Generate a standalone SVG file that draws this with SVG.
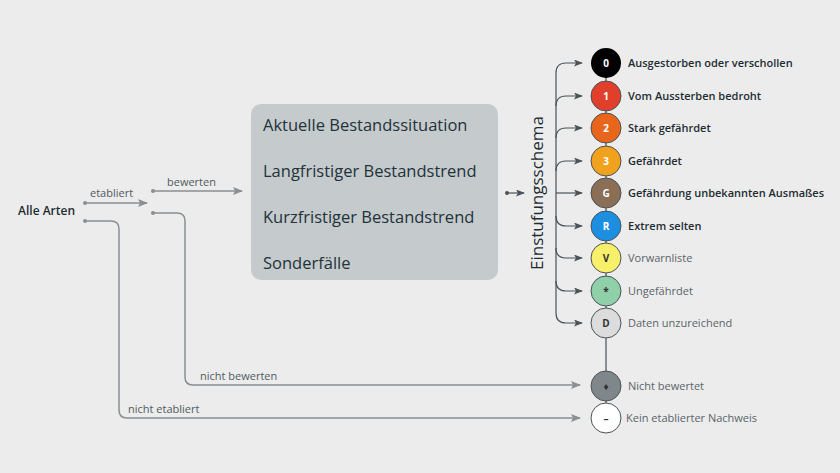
<svg xmlns="http://www.w3.org/2000/svg" width="840" height="473" viewBox="0 0 840 473">
<defs>
<style>
text{font-family:"Open Sans","Noto Sans",sans-serif}
.c{stroke:#8a8f92;stroke-width:1.5;fill:none}
.d{stroke:#4a5358;stroke-width:1.2;fill:none}
.lbl{font-size:11px;fill:#505a5f}
.bt{font-size:11px;font-weight:600;fill:#1e2d33}
.nt{font-size:11px;fill:#5a6469}
.ct{font-size:10px;font-weight:bold;text-anchor:middle}
.bx{font-size:16.5px;fill:#22333a}
</style>
<marker id="ag" markerWidth="10" markerHeight="8" refX="9" refY="4" orient="auto" markerUnits="userSpaceOnUse"><path d="M0,0L10,4L0,8L2,4Z" fill="#8a8f92"/></marker>
<marker id="ad" markerWidth="9" markerHeight="7" refX="8" refY="3.5" orient="auto" markerUnits="userSpaceOnUse"><path d="M0,0L9,3.5L0,7L2,3.5Z" fill="#4a5358"/></marker>
</defs>
<rect width="840" height="473" fill="#ececec"/>
<g id="connectors">
<circle cx="85" cy="203" r="2" fill="#8a8f92"/><path class="c" d="M85,203H147" marker-end="url(#ag)"/>
<circle cx="85" cy="221" r="2" fill="#8a8f92"/><path class="c" d="M85,221H111Q119,221 119,229V410Q119,418 127,418H580" marker-end="url(#ag)"/>
<circle cx="153" cy="191" r="2" fill="#8a8f92"/><path class="c" d="M153,191H242" marker-end="url(#ag)"/>
<circle cx="153" cy="213" r="2" fill="#8a8f92"/><path class="c" d="M153,213H177Q185,213 185,221V377Q185,385 193,385H580" marker-end="url(#ag)"/>
<circle cx="507" cy="193" r="2" fill="#4a5358"/><path class="d" d="M507,193H524" marker-end="url(#ad)"/>
<path class="d" d="M606,63V418"/>
<path class="d" d="M556,73V313"/>
<path class="d" d="M556,73Q556,63 566,63H582" marker-end="url(#ad)"/>
<path class="d" d="M556,106Q556,96 566,96H582" marker-end="url(#ad)"/>
<path class="d" d="M556,138Q556,128 566,128H582" marker-end="url(#ad)"/>
<path class="d" d="M556,171Q556,161 566,161H582" marker-end="url(#ad)"/>
<path class="d" d="M556,193H582" marker-end="url(#ad)"/>
<path class="d" d="M556,216Q556,226 566,226H582" marker-end="url(#ad)"/>
<path class="d" d="M556,248Q556,258 566,258H582" marker-end="url(#ad)"/>
<path class="d" d="M556,281Q556,291 566,291H582" marker-end="url(#ad)"/>
<path class="d" d="M556,313Q556,323 566,323H582" marker-end="url(#ad)"/>
<text class="lbl" x="90" y="197">etabliert</text>
<text class="lbl" x="167" y="186">bewerten</text>
<text class="lbl" x="200" y="380">nicht bewerten</text>
<text class="lbl" x="128" y="413">nicht etabliert</text>
</g>
<g id="alle"><text x="18" y="215" font-size="12" font-weight="600" fill="#1e2d33">Alle Arten</text></g>
<g id="box">
<rect x="251" y="104" width="247" height="176" rx="10" fill="#c5cacc"/>
<text class="bx" x="263" y="131">Aktuelle Bestandssituation</text>
<text class="bx" x="263" y="177">Langfristiger Bestandstrend</text>
<text class="bx" x="263" y="223">Kurzfristiger Bestandstrend</text>
<text class="bx" x="263" y="269">Sonderfälle</text>
</g>
<g id="schema"><text x="0" y="0" transform="translate(543,193) rotate(-90)" text-anchor="middle" font-size="17" fill="#1e2d33">Einstufungsschema</text></g>
<g id="n0"><circle cx="606" cy="63" r="15" fill="#000"/><text class="ct" x="606" y="67" fill="#fff">0</text><text class="bt" x="628" y="67">Ausgestorben oder verschollen</text></g>
<g id="n1"><circle cx="606" cy="96" r="15" fill="#e0402b" stroke="#4a5358"/><text class="ct" x="606" y="100" fill="#fff">1</text><text class="bt" x="628" y="100">Vom Aussterben bedroht</text></g>
<g id="n2"><circle cx="606" cy="128" r="15" fill="#e8661c" stroke="#4a5358"/><text class="ct" x="606" y="132" fill="#fff">2</text><text class="bt" x="628" y="132">Stark gefährdet</text></g>
<g id="n3"><circle cx="606" cy="161" r="15" fill="#f0a21e" stroke="#4a5358"/><text class="ct" x="606" y="165" fill="#fff">3</text><text class="bt" x="628" y="165">Gefährdet</text></g>
<g id="nG"><circle cx="606" cy="193" r="15" fill="#8a6e55" stroke="#4a5358"/><text class="ct" x="606" y="197" fill="#fff">G</text><text class="bt" x="628" y="197">Gefährdung unbekannten Ausmaßes</text></g>
<g id="nR"><circle cx="606" cy="226" r="15" fill="#1c8fe0" stroke="#4a5358"/><text class="ct" x="606" y="230" fill="#fff">R</text><text class="bt" x="628" y="230">Extrem selten</text></g>
<g id="nV"><circle cx="606" cy="258" r="15" fill="#f8f06a" stroke="#4a5358"/><text class="ct" x="606" y="262" fill="#333">V</text><text class="nt" x="628" y="262">Vorwarnliste</text></g>
<g id="nS"><circle cx="606" cy="291" r="15" fill="#8fd0a8" stroke="#4a5358"/><text class="ct" x="606" y="295" fill="#333">*</text><text class="nt" x="628" y="295">Ungefährdet</text></g>
<g id="nD"><circle cx="606" cy="323" r="15" fill="#dcdcdc" stroke="#4a5358"/><text class="ct" x="606" y="327" fill="#333">D</text><text class="nt" x="628" y="327">Daten unzureichend</text></g>
<g id="nN"><circle cx="606" cy="386" r="15" fill="#7f878b" stroke="#4a5358"/><text class="ct" x="606" y="390" fill="#333">♦</text><text class="nt" x="628" y="390">Nicht bewertet</text></g>
<g id="nK"><circle cx="606" cy="418" r="15" fill="#fff" stroke="#4a5358"/><text class="ct" x="606" y="422" fill="#333">–</text><text class="nt" x="626" y="422">Kein etablierter Nachweis</text></g>
</svg>
